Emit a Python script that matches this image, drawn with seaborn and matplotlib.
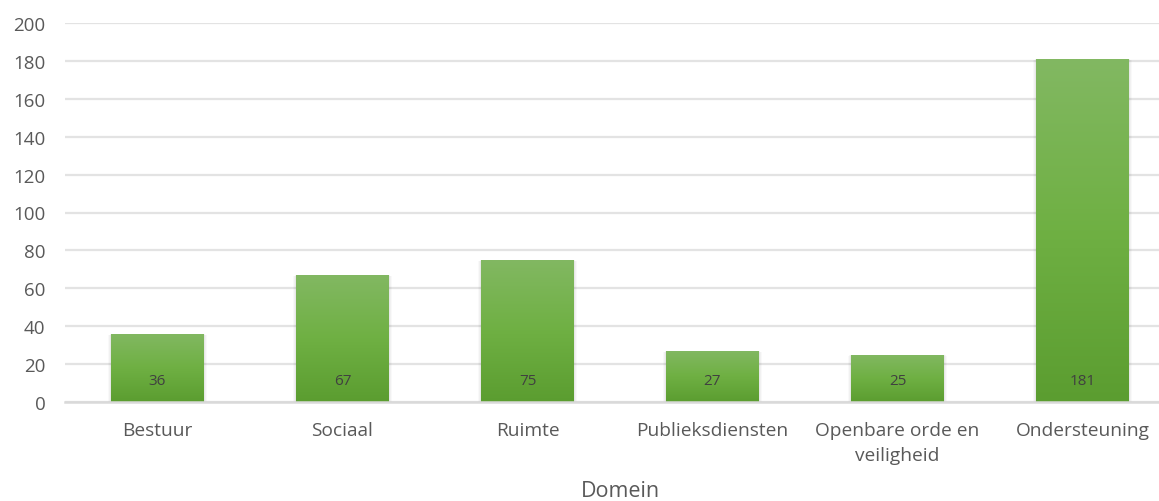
import numpy as np
import pandas as pd
import matplotlib
matplotlib.use("Agg")
import matplotlib.pyplot as plt
from matplotlib.colors import LinearSegmentedColormap
from matplotlib.patches import Rectangle
import seaborn as sns

categories = ["Bestuur", "Sociaal", "Ruimte", "Publieksdiensten",
              "Openbare orde en\nveiligheid", "Ondersteuning"]
values = [36, 67, 75, 27, 25, 181]
y_ticks = [0, 20, 40, 60, 80, 100, 120, 140, 160, 180, 200]
x_title = "Domein"

sns.set_theme(style="white")
plt.rcParams["font.family"] = ["Open Sans", "DejaVu Sans"]

df = pd.DataFrame({"domein": categories, "aantal": values})

fig = plt.figure(figsize=(11.59, 5.02), dpi=100)
ax = fig.add_axes([65 / 1159, 99 / 502, 1110 / 1159, 379 / 502])

sns.barplot(data=df, x="domein", y="aantal", ax=ax, width=0.5,
            color="#70ad47", saturation=1, edgecolor="none", zorder=3)

ax.set_ylim(0, 200)
ax.set_xlim(-0.5, 5.5)
ax.set_yticks(y_ticks)
ax.yaxis.grid(True, color="#e3e3e3", linewidth=1.6, zorder=0)
ax.xaxis.grid(False)
for s in ["top", "right", "left"]:
    ax.spines[s].set_visible(False)
ax.spines["bottom"].set_color("#d9d9d9")
ax.spines["bottom"].set_linewidth(1.8)
ax.spines["bottom"].set_zorder(4)

ax.tick_params(axis="y", length=0, labelsize=13.5, labelcolor="#595959", pad=14)
ax.tick_params(axis="x", length=0, labelsize=13.8, labelcolor="#595959", pad=14)
for t in ax.get_xticklabels():
    t.set_linespacing(1.45)
ax.set_xlabel(x_title, fontsize=15.5, color="#595959")
ax.xaxis.set_label_coords(0.5, -0.212)
ax.xaxis.label.set_va("center")
ax.xaxis.set_label_coords(0.5, (10 - 99) / 379)
ax.set_ylabel("")

# vertical green gradient with soft shadow for each bar
cmap = LinearSegmentedColormap.from_list("grn", ["#5b9d30", "#6fb043", "#82b862"])
grad = np.linspace(0, 1, 256).reshape(-1, 1)
for patch in list(ax.patches):
    x0, y0 = patch.get_x(), patch.get_y()
    w, h = patch.get_width(), patch.get_height()
    for k, a in enumerate([0.025, 0.03, 0.04]):
        dx = 0.006 * (3 - k)
        dy = 0.5 * (3 - k)
        sh = Rectangle((x0 - dx, y0 - dy), w + 2 * dx, h + dy * 0.6,
                       facecolor="#000000", alpha=a, edgecolor="none", zorder=2)
        ax.add_patch(sh)
    im = ax.imshow(grad, extent=[x0, x0 + w, y0, y0 + h], origin="lower",
                   cmap=cmap, aspect="auto", zorder=3.5)
    im.set_clip_path(patch)

ax.set_xlim(-0.5, 5.5)
ax.set_ylim(0, 200)

for i, v in enumerate(values):
    ax.annotate(f"{v}", xy=(i, 0), xytext=(0, 15.5), textcoords="offset points",
                ha="center", va="center", fontsize=11, color="#404040", zorder=5)

fig.savefig("out.png", dpi=100, facecolor="white")
